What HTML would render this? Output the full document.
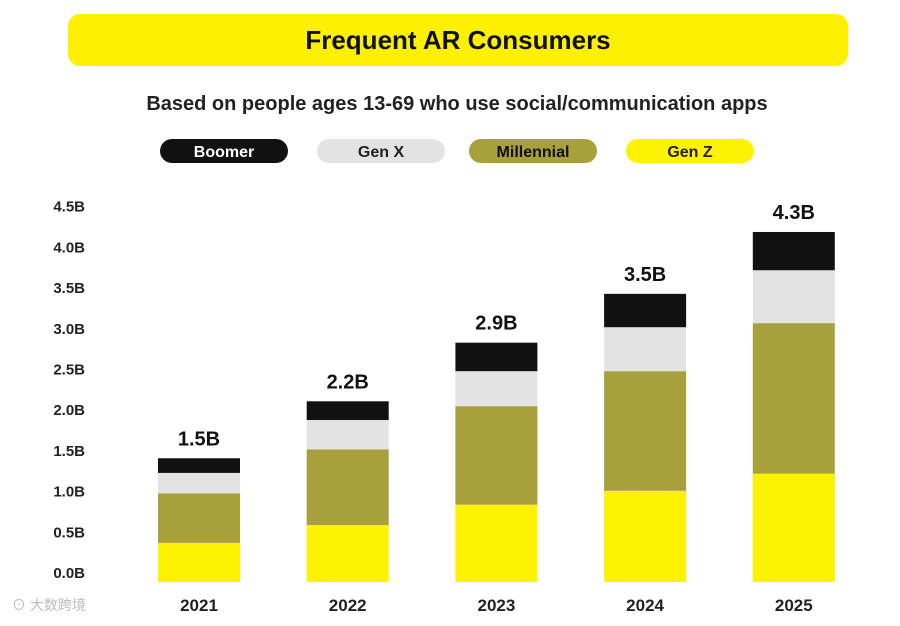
<!DOCTYPE html>
<html><head><meta charset="utf-8"><style>
body{margin:0;background:#fff;width:900px;height:621px;overflow:hidden;font-family:"Liberation Sans","Noto Sans CJK SC",sans-serif}
</style></head><body>
<svg width="900" height="621" viewBox="0 0 900 621">
<rect x="68" y="14" width="780" height="52" rx="12" fill="#fdf000"/>
<text x="458" y="49" text-anchor="middle" font-size="26" font-weight="bold" fill="#111">Frequent AR Consumers</text>
<text x="457" y="110" text-anchor="middle" font-size="20" font-weight="bold" fill="#222">Based on people ages 13-69 who use social/communication apps</text>
<g id="legend"></g>
<g id="axis"></g>
<g id="bars"></g>
<text x="12" y="610" font-size="14" fill="#bbb">⊙ 大数跨境</text>
</svg>
<script>
const years=["2021","2022","2023","2024","2025"];
const genZ=[0.48,0.70,0.95,1.12,1.33];
const millennial=[0.61,0.93,1.21,1.47,1.85];
const genX=[0.25,0.36,0.43,0.54,0.65];
const boomer=[0.18,0.23,0.35,0.41,0.47];
const totalLabels=["1.5B","2.2B","2.9B","3.5B","4.3B"];
const tickVals=[0,0.5,1,1.5,2,2.5,3,3.5,4,4.5];
const tickLabels=["0.0B","0.5B","1.0B","1.5B","2.0B","2.5B","3.0B","3.5B","4.0B","4.5B"];
const NS="http://www.w3.org/2000/svg";
const base=582,pxPerB=81.4;
const y=v=>base-v*pxPerB;
const xc=i=>199+i*148.7;
function mk(tag,attrs,parent,text){const e=document.createElementNS(NS,tag);for(const k in attrs)e.setAttribute(k,attrs[k]);if(text!=null)e.textContent=text;parent.appendChild(e);return e;}
const axis=document.getElementById('axis');
tickVals.forEach((v,i)=>{const t=mk('text',{x:85,y:y(v)-9+5,'text-anchor':'end','font-size':15,'font-weight':'bold',fill:'#222'},axis,tickLabels[i]);

});
const series=[["gen-z",genZ,"#fdf200"],["millennial",millennial,"#a8a13b"],["gen-x",genX,"#e3e3e3"],["boomer",boomer,"#111111"]];
const bars=document.getElementById('bars');
years.forEach((yr,i)=>{let acc=0;
series.forEach(([n,arr,c])=>{const r=mk('rect',{x:xc(i)-41,y:y(acc+arr[i]),width:82,height:arr[i]*pxPerB,fill:c},bars);


acc+=arr[i];});
const tl=mk('text',{x:xc(i),y:y(acc)-13,'text-anchor':'middle','font-size':20,'font-weight':'bold',fill:'#111'},bars,totalLabels[i]);


const xl=mk('text',{x:xc(i),y:611,'text-anchor':'middle','font-size':17,'font-weight':'bold',fill:'#222'},bars,yr);

});
const legend=document.getElementById('legend');
const leg=[["Boomer",160,"#111","#fff"],["Gen X",317,"#e3e3e3","#222"],["Millennial",469,"#a8a13b","#111"],["Gen Z",626,"#fdf200","#222"]];
leg.forEach(([n,x,c,tc])=>{const g=mk('g',{},legend);


mk('rect',{x:x,y:139,width:128,height:24,rx:12,fill:c},g);
mk('text',{x:x+64,y:157,'text-anchor':'middle','font-size':16,'font-weight':'bold',fill:tc},g,n);});
</script>
</body></html>
